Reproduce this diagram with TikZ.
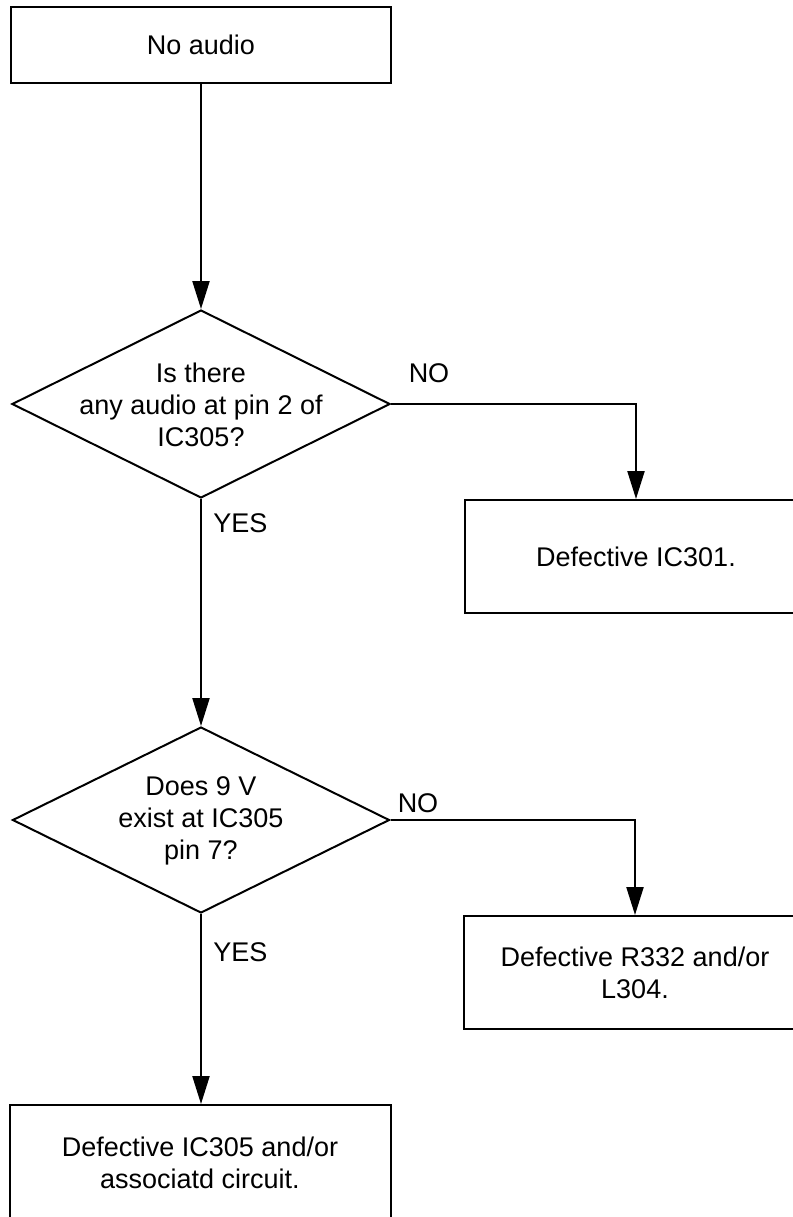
\documentclass[tikz,border=0pt]{standalone}
\usepackage{fontspec}
\setmainfont{Liberation Sans}
\usetikzlibrary{shapes.geometric,arrows.meta}

\begin{document}
\begin{tikzpicture}[x=0.5pt, y=-0.5pt,
        font=\fontsize{13.5}{16}\selectfont,
        box/.style={rectangle, draw, line width=1pt, align=center, inner sep=0pt},
        decision/.style={diamond, draw, line width=1pt, inner sep=0pt},
        flow/.style={line width=1.1pt, -{Triangle[width=8.5pt, length=14pt]}},
        lbl/.style={inner sep=0pt}]

        \useasboundingbox (0,0) rectangle (793,1217);
        \clip (0,0) rectangle (793,1217);

        \node[box, minimum width=190pt, minimum height=38pt] (start) at (201,45) {No audio};

        \node[decision, minimum width=189pt, minimum height=94pt] (q1) at (201,404) {};
        \node[align=center, inner sep=0pt] (q1text) at (201,405) {Is there\\any audio at pin 2 of\\IC305?};

        \node[box, minimum width=171pt, minimum height=56.5pt] (r1) at (636,556.5) {Defective IC301.};

        \node[decision, minimum width=188.5pt, minimum height=93pt] (q2) at (201,820) {};
        \node[align=center, inner sep=0pt] (q2text) at (201,821) {Does 9 V\\exist at IC305\\pin 7?};

        \node[box, minimum width=171pt, minimum height=56.5pt] (r2) at (635,972.5) {Defective R332 and/or\\L304.};

        \node[box, minimum width=190.5pt, minimum height=58pt, anchor=north] (end) at (200,1104) {Defective IC305 and/or\\associatd circuit.};

        % answers
        \node[lbl] (no1) at (429,373) {NO};
        \node[lbl, anchor=west] (yes1) at (213,523) {YES};
        \node[lbl] (no2) at (418,803) {NO};
        \node[lbl, anchor=west] (yes2) at (213,952) {YES};

        \draw[flow] (start) -- (q1);
        \draw[flow] (q1.east) -| (r1.north);
        \draw[flow] (q1.south) -- (q2.north);
        \draw[flow] (q2.east) -| (r2.north);
        \draw[flow] (q2.south) -- (end.north -| q2.south);
    \end{tikzpicture}
\end{document}
